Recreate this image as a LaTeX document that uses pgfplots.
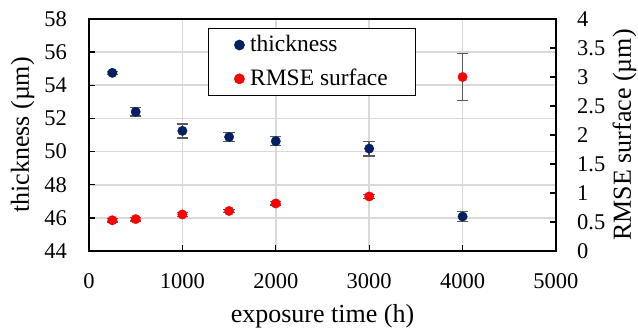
\documentclass[border=0pt]{standalone}
\usepackage{pgfplots}
\pgfplotsset{compat=1.18}
\usepackage{fontspec}
\setmainfont{Liberation Serif}
\definecolor{navy}{HTML}{002060}
\definecolor{rmsered}{HTML}{FF0000}
\definecolor{errgray}{HTML}{595959}
\definecolor{gridgray}{HTML}{D9D9D9}
\begin{document}
\fontsize{22.5}{27}\selectfont
\begin{tikzpicture}
\pgfplotsset{
  every axis/.append style={
    scale only axis, width=467pt, height=232pt,
    xmin=0, xmax=5000,
    /pgf/number format/assume math mode=true,
    tick label style={font=\fontsize{22.5}{27}\selectfont},
    label style={font=\fontsize{26}{30}\selectfont},
    tick align=inside,
    major tick length=6pt,
    tick style={black, line width=1.3pt},
    axis line style={black, line width=1.8pt},
    /pgf/number format/1000 sep={},
  },
  eb/.style={error bars/.cd, y dir=both, y explicit, error mark=|,
    error bar style={errgray, line width=1.4pt},
    error mark options={errgray, mark size=5.7pt, line width=1.4pt}},
}
\begin{axis}[
  at={(0,0)}, anchor=south west,
  ymin=44, ymax=58, ytick={44,46,...,58},
  xtick={0,1000,...,5000},
  xtick pos=bottom, ytick pos=left,
  xmajorgrids, ymajorgrids,
  grid style={gridgray, line width=1.6pt},
  xlabel={exposure time (h)},
  ylabel={thickness (µm)},
  xlabel style={at={(axis description cs:0.5,-0.280)}, anchor=center},
  ylabel style={at={(axis description cs:-0.1424,0.5)}, anchor=center},
  xticklabel style={yshift=-14.5pt},
  yticklabel style={xshift=-14.5pt},
]
\addplot[only marks, mark=*, mark size=4.7pt, mark options={fill=navy, draw=navy}, eb]
  coordinates {
  (250,54.75) +- (0,0.1)
  (500,52.4) +- (0,0.25)
  (1000,51.25) +- (0,0.42)
  (1500,50.88) +- (0,0.27)
  (2000,50.63) +- (0,0.27)
  (3000,50.18) +- (0,0.44)
  (4000,46.08) +- (0,0.3)
  };
\end{axis}
\begin{axis}[
  at={(0,0)}, anchor=south west,
  ymin=0, ymax=4, ytick={0,0.5,...,4},
  axis y line*=right, axis x line=none,
  ylabel={RMSE surface (µm)},
  ylabel style={at={(axis description cs:1.1467,0.5)}, anchor=center},
  yticklabel style={xshift=13.5pt, /pgf/number format/fixed, /pgf/number format/precision=1},
  legend style={at={(0.255,0.961)}, anchor=north west, draw=black, line width=1.3pt,
    fill=white, font=\fontsize{23.5}{28}\selectfont, row sep=10pt, column sep=4pt,
    inner xsep=26pt, inner ysep=4.5pt},
  legend cell align=left,
]
\addlegendimage{only marks, mark=*, mark size=4.7pt, mark options={fill=navy, draw=navy}}
\addlegendentry{thickness}
\addplot[only marks, mark=*, mark size=4.7pt, mark options={fill=rmsered, draw=rmsered}, eb]
  coordinates {
  (250,0.53) +- (0,0.03)
  (500,0.55) +- (0,0.03)
  (1000,0.63) +- (0,0.03)
  (1500,0.69) +- (0,0.03)
  (2000,0.82) +- (0,0.03)
  (3000,0.94) +- (0,0.03)
  (4000,3.0) +- (0,0.41)
  };
\addlegendentry{RMSE surface}
\end{axis}
\pgfresetboundingbox
\path[use as bounding box] (-89pt,-79pt) rectangle (549pt,251pt);
\end{tikzpicture}
\end{document}
